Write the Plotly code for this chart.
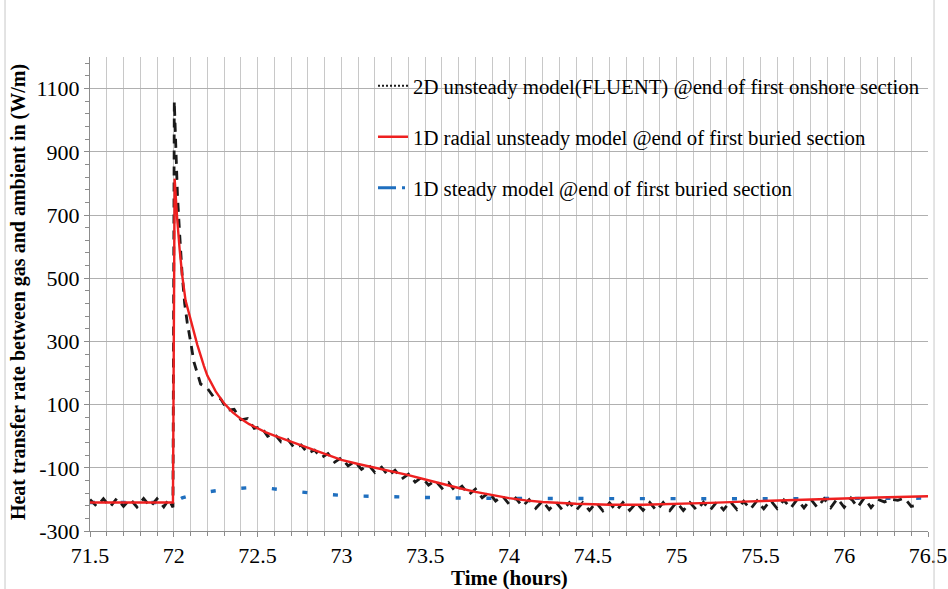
import plotly.graph_objects as go

# ---------------- data ----------------
# 2D unsteady model (FLUENT)
black_t = [71.50, 71.54, 71.58, 71.62, 71.66, 71.70, 71.74, 71.78, 71.82, 71.86, 71.90, 71.94, 71.97, 71.995,
           72.003, 72.012, 72.022, 72.035, 72.05, 72.065, 72.08, 72.10,
           72.12, 72.16, 72.20, 72.24, 72.28, 72.32, 72.36, 72.40, 72.44, 72.48, 72.52, 72.56, 72.60, 72.64,
           72.68, 72.72, 72.76, 72.80, 72.84, 72.88, 72.92, 72.96, 73.00, 73.04, 73.08, 73.12, 73.16, 73.20,
           73.24, 73.28, 73.32, 73.36, 73.40, 73.44, 73.48, 73.52, 73.56, 73.60, 73.64, 73.68, 73.72, 73.76,
           73.80, 73.84, 73.88, 73.92, 73.96, 74.00, 74.04, 74.08, 74.12, 74.16, 74.20, 74.24, 74.28, 74.32,
           74.36, 74.40, 74.44, 74.48, 74.52, 74.56, 74.60, 74.64, 74.68, 74.72, 74.76, 74.80, 74.84, 74.88,
           74.92, 74.96, 75.00, 75.04, 75.08, 75.12, 75.16, 75.20, 75.24, 75.28, 75.32, 75.36, 75.40, 75.44,
           75.48, 75.52, 75.56, 75.60, 75.64, 75.68, 75.72, 75.76, 75.80, 75.84, 75.88, 75.92, 75.96, 76.00,
           76.04, 76.08, 76.12, 76.16, 76.20, 76.24, 76.28, 76.32, 76.36, 76.40, 76.44]
black_v = [-200, -222, -198, -224, -197, -222, -199, -224, -197, -223, -198, -224, -200, -225,
           1060, 900, 760, 640, 510, 420, 360, 300,
           235, 165, 152, 122, 118, 82, 85, 52, 56, 25, 30, 0, 8, -18,
           -10, -38, -28, -54, -44, -68, -55, -82, -68, -94, -80, -105, -90, -115,
           -98, -125, -108, -135, -120, -145, -130, -155, -140, -165, -147, -175, -158, -185,
           -167, -195, -178, -205, -189, -215, -196, -222, -201, -228, -205, -232, -209, -234,
           -210, -235, -210, -235, -210, -236, -211, -236, -210, -235, -210, -235, -210, -236,
           -210, -235, -209, -235, -210, -234, -209, -234, -208, -233, -207, -232, -206, -231,
           -204, -230, -203, -229, -202, -228, -200, -227, -199, -226, -198, -226, -197, -225,
           -196, -225, -195, -226, -200, -208, -200, -203, -196, -222, -218]

# 1D radial unsteady model
red_t = [71.5, 71.995, 72.005, 72.01, 72.02, 72.035, 72.05, 72.07, 72.1, 72.14, 72.18, 72.2, 72.25,
         72.3, 72.35, 72.4, 72.45, 72.5, 72.55, 72.6, 72.7, 72.8, 72.9, 73.0, 73.1, 73.2, 73.3, 73.4,
         73.5, 73.6, 73.7, 73.8, 73.9, 74.0, 74.1, 74.2, 74.4, 74.6, 74.8, 75.0, 75.2, 75.4, 75.6, 75.8,
         76.0, 76.2, 76.5]
red_v = [-210, -210, 815, 770, 690, 590, 510, 430, 370, 290, 222, 192, 142,
         104, 76, 55, 38, 24, 12, 2, -17, -37, -57, -75, -88, -99, -110, -123,
         -137, -151, -164, -176, -187, -196, -203, -208, -214, -217, -217, -215, -211, -207, -203, -200,
         -197, -194, -190]

# 1D steady model
blue_t = [71.5, 72.0, 72.05, 72.15, 72.33, 72.51, 72.69, 72.88, 73.06, 73.25, 73.6, 74.0, 74.5,
          75.0, 75.5, 76.0, 76.5]
blue_v = [-210, -210, -195, -180, -167, -161, -173, -183, -189, -192, -195, -197, -198,
          -198, -198, -197, -196]

x_ticks = [71.5, 72, 72.5, 73, 73.5, 74, 74.5, 75, 75.5, 76, 76.5]
x_labels = ["71.5", "72", "72.5", "73", "73.5", "74", "74.5", "75", "75.5", "76", "76.5"]
y_ticks = [-300, -100, 100, 300, 500, 700, 900, 1100]
y_labels = ["-300", "-100", "100", "300", "500", "700", "900", "1100"]

names = ["2D unsteady model(FLUENT) @end of first onshore section",
         "1D radial unsteady model @end of first buried section",
         "1D steady model @end of first buried section"]

FONT = "Liberation Serif"

fig = go.Figure()

fig.add_trace(go.Scatter(x=blue_t, y=blue_v, mode="lines", showlegend=False,
                         line=dict(color="#1f6fbf", width=3.4, dash="5px,25.7px")))
fig.add_trace(go.Scatter(x=black_t, y=black_v, mode="lines", showlegend=False,
                         line=dict(color="#1a1a1a", width=2.8, dash="9px,7px")))
fig.add_trace(go.Scatter(x=red_t, y=red_v, mode="lines", showlegend=False,
                         line=dict(color="#ee2020", width=2.4)))

# legend entries
fig.add_trace(go.Scatter(x=[None], y=[None], mode="lines", name=names[0], legendgroup="a",
                         line=dict(color="#1a1a1a", width=2, dash="2px,2px")))
fig.add_trace(go.Scatter(x=[None], y=[None], mode="lines", name=names[1], legendgroup="b",
                         line=dict(color="#ee2020", width=2.4)))
fig.add_trace(go.Scatter(x=[None], y=[None], mode="lines", name=names[2], legendgroup="c",
                         line=dict(color="#1f6fbf", width=3, dash="18px,6px,3px")))

fig.update_layout(
    width=948, height=589,
    margin=dict(l=90, r=20, t=57, b=58, autoexpand=False),
    paper_bgcolor="white", plot_bgcolor="white",
    font=dict(family=FONT, color="black", size=21),
    legend=dict(x=0.3377, y=0.9816, xanchor="left", yanchor="top",
                bgcolor="rgba(0,0,0,0)", font=dict(family=FONT, size=20.8),
                tracegroupgap=21, itemwidth=30),
    shapes=[
        dict(type="rect", xref="x", yref="y", x0=72.76, x1=76.5, y0=706, y1=1200,
             fillcolor="white", line=dict(width=0), layer="below"),
        dict(type="line", xref="paper", yref="paper", x0=-0.1014, x1=-0.1014, y0=-0.2, y1=1.2,
             line=dict(color="#c8c8c8", width=1)),
        dict(type="line", xref="paper", yref="paper", x0=1.0072, x1=1.0072, y0=-0.2, y1=1.2,
             line=dict(color="#c8c8c8", width=1)),
    ],
    annotations=[
        dict(text="<b>Heat transfer rate between gas and ambient in (W/m)</b>", xref="paper", yref="paper",
             x=-0.0859, y=0.504, textangle=-90, showarrow=False, font=dict(family=FONT, size=20),
             xanchor="center", yanchor="middle"),
        dict(text="<b>Time (hours)</b>", xref="paper", yref="paper", x=0.5, y=-0.099,
             showarrow=False, font=dict(family=FONT, size=21), xanchor="center", yanchor="middle"),
    ],
)

fig.update_xaxes(range=[71.5, 76.5], tickvals=x_ticks, ticktext=x_labels, automargin=False,
                 showgrid=True, gridcolor="#c8c8c8", gridwidth=1,
                 showline=True, linecolor="#8c8c8c", linewidth=1,
                 ticks="outside", ticklen=5, tickcolor="#8c8c8c",
                 tickfont=dict(family=FONT, size=22),
                 minor=dict(dtick=0.1, tick0=71.5, showgrid=True, gridcolor="#c8c8c8", gridwidth=1,
                            ticks="outside", ticklen=4, tickcolor="#8c8c8c"),
                 zeroline=False)
fig.update_yaxes(range=[-300, 1200], tickvals=y_ticks, ticktext=y_labels, automargin=False,
                 showgrid=True, gridcolor="#b0b0b0", gridwidth=1,
                 showline=True, linecolor="#8c8c8c", linewidth=1,
                 ticks="outside", ticklen=5, tickcolor="#8c8c8c",
                 tickfont=dict(family=FONT, size=22),
                 minor=dict(dtick=40, tick0=-300, showgrid=False,
                            ticks="outside", ticklen=4, tickcolor="#8c8c8c"),
                 zeroline=False)

fig.write_html("out.html")
